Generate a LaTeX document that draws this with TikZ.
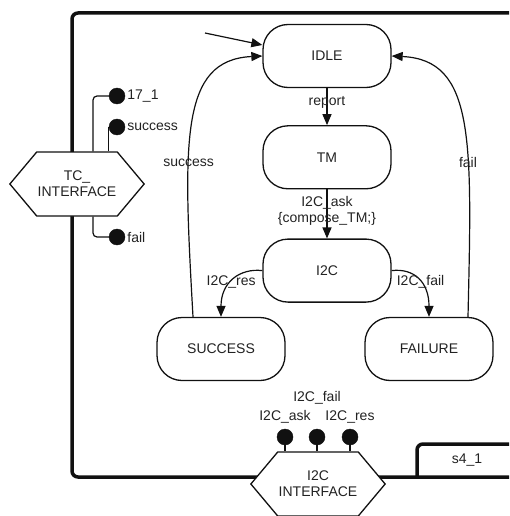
\documentclass[tikz,border=0pt]{standalone}
\usepackage{fontspec}
\setmainfont{Liberation Sans}
\usepackage{tikz}
\usetikzlibrary{
  arrows.meta,
  shapes.symbols,
  positioning,
  calc
}
\definecolor{smInk}{HTML}{111111}
\definecolor{smText}{HTML}{222222}
\tikzset{
  smnode/.style={
    draw=smInk, line width=1.3pt, font=\fontsize{14}{16}\selectfont,
    text=smText, align=center
  },
  smstate/.style={smnode, rounded corners=25pt, minimum width=128pt, minimum height=63pt, fill=white},
  iface/.style={smnode, shape=signal, signal to=west and east, signal pointer angle=100,
    minimum width=126pt, minimum height=64pt, fill=white, inner sep=1pt},
  port/.style={circle, fill=smInk, draw=smInk, minimum size=16pt, inner sep=0pt},
  lbl/.style={font=\fontsize{14}{16}\selectfont, text=smText, align=center, inner sep=2pt},
  trans/.style={-{Triangle[length=11pt, width=9pt]}, line width=1.2pt, draw=smInk},
  wire/.style={line width=1.2pt, draw=smInk, rounded corners=4pt},
  frame/.style={line width=3.5pt, draw=smInk, rounded corners=6pt}
}

\begin{document}
\begin{tikzpicture}[x=1pt, y=-1pt, node distance=37pt]
  \useasboundingbox (0,0) rectangle (509,516);
  \clip (0,0) rectangle (509,516);
  \draw[frame] (530,13) -- (72,13) -- (72,477) -- (530,477);
  \draw[frame] (530,444) -- (417,444) -- (417,477);
  \node[lbl] (tab) at (467,460) {s4\_1};

  \node[smstate] (idle) at (327,56) {IDLE};
  \node[smstate, below=of idle] (tm) {TM};
  \node[smstate, below=49pt of tm] (i2c) {I2C};
  \node[smstate] (success) at (221,349) {SUCCESS};
  \node[smstate] (failure) at (429,349) {FAILURE};

  \node[iface] (tcif) at (77,184) {TC\_\\INTERFACE};
  \node[iface] (i2cif) at (318,484) {I2C\\INTERFACE};

  \node[port, label={[lbl]right:17\_1}] (p171) at (117,96) {};
  \node[port, label={[lbl]right:success}] (psucc) at (117,127) {};
  \node[port, label={[lbl]right:fail}] (pfail) at (117,237) {};
  \draw[wire] (p171.west) -| ([xshift=16pt]tcif.north);
  \draw[wire] (psucc.west) -- (psucc.west |- tcif.north);
  \draw[wire] ([xshift=16pt]tcif.south) |- (pfail.west);

  \node[port, label={[lbl, label distance=3pt]above:I2C\_ask}] (pask) at (285,437) {};
  \node[port, label={[lbl, label distance=22pt]above:I2C\_fail}] (pfl) at (317,437) {};
  \node[port, label={[lbl, label distance=3pt]above:I2C\_res}] (pres) at (350,437) {};
  \draw[wire] (pask.south) -- (pask |- i2cif.north);
  \draw[wire] (pfl.south) -- (pfl |- i2cif.north);
  \draw[wire] (pres.south) -- (pres |- i2cif.north);

  \coordinate (init) at (205,33);
  \draw[trans] (init) -- ([yshift=11pt]idle.west);
  \draw[trans] (idle) -- node[lbl, pos=0.38] {report} (tm);
  \draw[trans] (tm) -- node[lbl, pos=0.43] {I2C\_ask\\\{compose\_TM;\}} (i2c);
  \draw[trans] (i2c.west) .. controls (240,268) and (221,282) .. (success.north)
    node[lbl, pos=0.55] {I2C\_res};
  \draw[trans] (i2c.east) .. controls (414,268) and (429,282) .. (failure.north)
    node[lbl, pos=0.55] {I2C\_fail};
  \draw[trans] ([xshift=-28pt]success.north) .. controls (183,140) and (180,60) .. (idle.west)
    node[lbl, pos=0.36] {success};
  \draw[trans] ([xshift=39pt]failure.north) .. controls (472,140) and (475,60) .. (idle.east)
    node[lbl, pos=0.36] {fail};
\end{tikzpicture}
\end{document}
